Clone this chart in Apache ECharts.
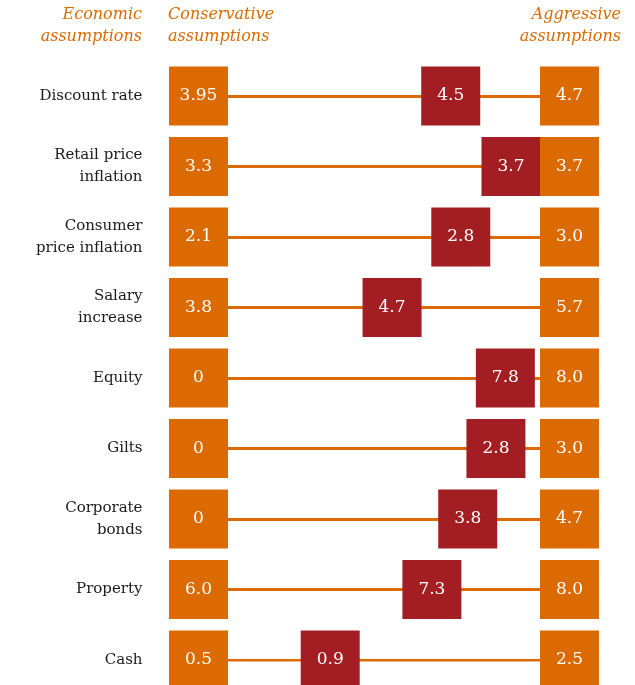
<!DOCTYPE html>
<html><head><meta charset="utf-8">
<script src="https://cdn.jsdelivr.net/npm/echarts@6/dist/echarts.min.js"></script>
<style>html,body{margin:0;padding:0;background:#fff}#c{width:635px;height:685px}</style>
</head><body><div id="c"></div>
<script>
var categories = ['Discount rate','Retail price\ninflation','Consumer\nprice inflation','Salary\nincrease','Equity','Gilts','Corporate\nbonds','Property','Cash'];
var conservative = [3.95, 3.3, 2.1, 3.8, 0, 0, 0, 6.0, 0.5];
var aggressive   = [4.7, 3.7, 3.0, 5.7, 8.0, 3.0, 4.7, 8.0, 2.5];
var chosen       = [4.5, 3.7, 2.8, 4.7, 7.8, 2.8, 3.8, 7.3, 0.9];
var headers = ['Economic\nassumptions', 'Conservative\nassumptions', 'Aggressive\nassumptions'];

var ORANGE = '#DB6A00', RED = '#A31E22', FONT = 'DejaVu Serif';
function fmt(v){ if (v === 0) return '0'; if (Math.round(v) === v) return v.toFixed(1); return String(v); }

var chart = echarts.init(document.getElementById('c'));
var boxLabel = {show:true, position:'inside', color:'#fff', fontFamily:FONT, fontSize:17,
  formatter:function(p){ return fmt(p.data.raw); }};
var headStyle = {fill:ORANGE, font:'italic 16px "DejaVu Serif"', lineHeight:22, verticalAlign:'top'};

chart.setOption({
  animation:false,
  graphic:[
    {type:'text', x:142, y:4, style:Object.assign({text:headers[0], align:'right'}, headStyle)},
    {type:'text', x:168, y:4, style:Object.assign({text:headers[1], align:'left'}, headStyle)},
    {type:'text', x:621, y:4, style:Object.assign({text:headers[2], align:'right'}, headStyle)}
  ],
  grid:[
    {left:198.5, right:65.5, top:96, bottom:25},
    {left:285, right:124, top:96, bottom:25}
  ],
  xAxis:[
    {gridIndex:0, type:'value', min:0, max:1, show:false},
    {gridIndex:1, type:'value', min:0, max:1, show:false}
  ],
  yAxis:[
    {gridIndex:0, type:'category', data:categories, inverse:true, boundaryGap:false,
     axisLine:{show:false}, axisTick:{show:false}, splitLine:{show:false},
     axisLabel:{color:'#1a1a1a', fontFamily:FONT, fontSize:15, lineHeight:22, margin:56, align:'right'}},
    {gridIndex:1, type:'category', data:categories, inverse:true, boundaryGap:false, show:false}
  ],
  series:[
    {type:'lines', coordinateSystem:'cartesian2d', xAxisIndex:0, yAxisIndex:0, z:1,
     lineStyle:{color:ORANGE, width:3, opacity:1}, silent:true,
     data:categories.map(function(c){ return {coords:[[0,c],[1,c]]}; })},
    {type:'scatter', xAxisIndex:0, yAxisIndex:0, z:3, symbol:'rect', symbolSize:[59,59],
     itemStyle:{color:ORANGE, opacity:1}, label:boxLabel,
     data:categories.map(function(c,i){ return {value:[0,c], raw:conservative[i]}; })},
    {type:'scatter', xAxisIndex:0, yAxisIndex:0, z:3, symbol:'rect', symbolSize:[59,59],
     itemStyle:{color:ORANGE, opacity:1}, label:boxLabel,
     data:categories.map(function(c,i){ return {value:[1,c], raw:aggressive[i]}; })},
    {type:'scatter', xAxisIndex:1, yAxisIndex:1, z:2, symbol:'rect', symbolSize:[59,59],
     itemStyle:{color:RED, opacity:1}, label:boxLabel,
     data:categories.map(function(c,i){
       var f = (chosen[i]-conservative[i])/(aggressive[i]-conservative[i]);
       return {value:[f,c], raw:chosen[i]}; })}
  ]
});
</script></body></html>
